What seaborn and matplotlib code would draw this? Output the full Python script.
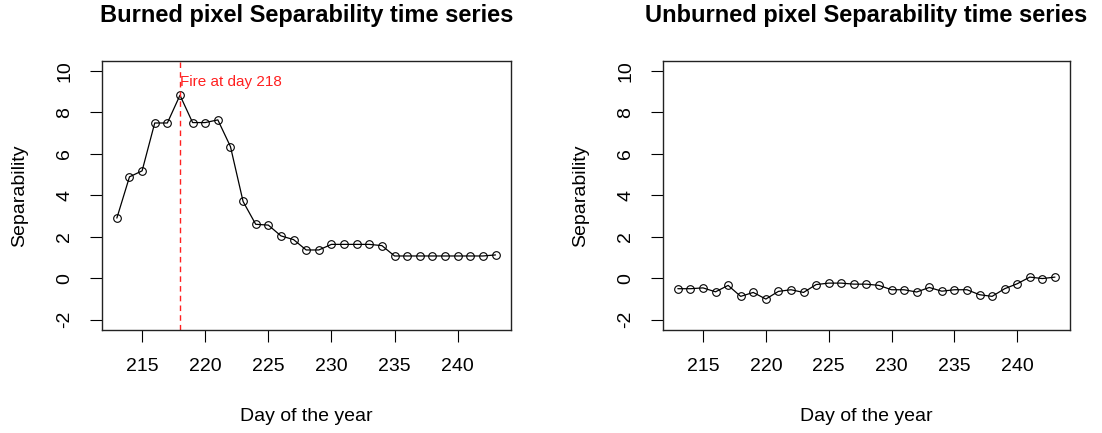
import numpy as np
import pandas as pd
import matplotlib
matplotlib.use("Agg")
import matplotlib.pyplot as plt
import seaborn as sns

# day of the year for every observation
days = list(range(213, 244))

# separability
burned_sep = [2.90, 4.89, 5.18, 7.49, 7.49, 8.83, 7.51, 7.51, 7.64, 6.35,
              3.70, 2.60, 2.56, 2.04, 1.86, 1.36, 1.36, 1.63, 1.63, 1.63,
              1.63, 1.57, 1.07, 1.07, 1.07, 1.07, 1.07, 1.07, 1.07, 1.07, 1.12]
unburned_sep = [-0.51, -0.51, -0.47, -0.66, -0.35, -0.88, -0.69, -1.01, -0.64, -0.56,
                -0.69, -0.31, -0.24, -0.24, -0.29, -0.29, -0.35, -0.56, -0.56, -0.67,
                -0.45, -0.63, -0.56, -0.56, -0.80, -0.88, -0.51, -0.27, 0.05, -0.02, 0.05]

fire_day = 218
x_ticks = [215, 220, 225, 230, 235, 240]
y_ticks = [-2, 0, 2, 4, 6, 8, 10]

sns.set_style("white")
plt.rcParams['font.family'] = ['Liberation Sans', 'DejaVu Sans']
plt.rcParams['axes.unicode_minus'] = False
plt.rcParams['text.color'] = 'black'
plt.rcParams['axes.labelcolor'] = 'black'
plt.rcParams['xtick.color'] = 'black'
plt.rcParams['ytick.color'] = 'black'


def draw_panel(ax, values, title):
    df = pd.DataFrame({'day': days, 'sep': values})
    sns.lineplot(x='day', y='sep', data=df, ax=ax, color='black', linewidth=0.9,
                 marker='o', markersize=5.5, markerfacecolor='none',
                 markeredgecolor='black', markeredgewidth=0.8)
    ax.set_xlim(211.8, 244.2)
    ax.set_ylim(-2.48, 10.48)
    ax.set_xticks(x_ticks)
    ax.set_yticks(y_ticks)
    ax.tick_params(axis='both', direction='out', length=8.5, width=0.8,
                   color='black', labelsize=14, pad=12,
                   bottom=True, left=True, top=False, right=False)
    plt.setp(ax.get_yticklabels(), rotation=90, va='center')
    for sp in ax.spines.values():
        sp.set_color('#222222')
        sp.set_linewidth(1.0)
    ax.set_title(title, fontsize=17, fontweight='bold', pad=28, color='black')
    ax.set_xlabel('Day of the year', fontsize=14, labelpad=24)
    ax.set_ylabel('Separability', fontsize=14, labelpad=20)


fig = plt.figure(figsize=(11.02, 4.33), dpi=100)
ax1 = fig.add_axes([0.0923, 0.239, 0.3711, 0.620])
ax2 = fig.add_axes([0.6014, 0.239, 0.3696, 0.620])

draw_panel(ax1, burned_sep, 'Burned pixel Separability time series')
ax1.axvline(fire_day, color='#FF2020', linestyle=(0, (4, 3)), linewidth=1.0)
ax1.text(fire_day, 9.47, 'Fire at day %d' % fire_day, color='#FF2020',
         fontsize=11, ha='left', va='center')

draw_panel(ax2, unburned_sep, 'Unburned pixel Separability time series')

fig.savefig('out.png', dpi=100)
